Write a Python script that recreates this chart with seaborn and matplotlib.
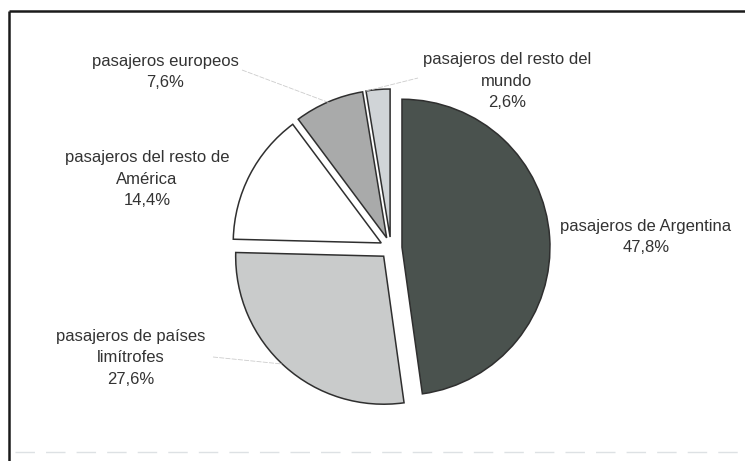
import numpy as np
import matplotlib
matplotlib.use("Agg")
import matplotlib.pyplot as plt
import seaborn as sns

# dados do gráfico
categorias = [
    "pasajeros de Argentina",
    "pasajeros de países\nlimítrofes",
    "pasajeros del resto de\nAmérica",
    "pasajeros europeos",
    "pasajeros del resto del\nmundo",
]
porcentajes = [47.8, 27.6, 14.4, 7.6, 2.6]
colores = ["#4a524e", "#c9cbcb", "#ffffff", "#a9aaaa", "#d0d4d7"]

# posição dos rótulos em pixels (x, y desde o topo)
pos_rotulos = [(646, 237), (131, 358), (147, 179), (165, 72), (507, 81)]
# linhas guia (pixels)
linhas_guia = [
    [(242, 70), (330, 103)],
    [(366, 91), (418, 78)],
    [(213, 357), (282, 364)],
]

W, H = 745, 461
sns.set_style("white")
plt.rcParams["font.family"] = ["Liberation Sans", "DejaVu Sans"]

fig = plt.figure(figsize=(W / 100, H / 100), dpi=100)
ax = fig.add_axes([0, 0, 1, 1])

centro = (391, H - 248)
raio = 148
ax.pie(
    porcentajes,
    colors=colores,
    startangle=90,
    counterclock=False,
    explode=[11] * len(porcentajes),
    center=centro,
    radius=raio,
    wedgeprops=dict(edgecolor="#2f2f2f", linewidth=1.1),
)

for cat, val, (px, py) in zip(categorias, porcentajes, pos_rotulos):
    txt = cat + "\n" + f"{val:.1f}".replace(".", ",") + "%"
    ax.text(px, H - py, txt, ha="center", va="center", fontsize=12,
            color="#333333", linespacing=1.55)

for (x0, y0), (x1, y1) in linhas_guia:
    ax.plot([x0, x1], [H - y0, H - y1], color="#cccccc", linewidth=0.6,
            linestyle=(0, (6, 1.5)))

# moldura
ax.plot([9, W], [H - 11, H - 11], color="#1a1a1a", linewidth=1.8, solid_capstyle="butt")
ax.plot([9, 9], [H - 11, 0], color="#1a1a1a", linewidth=1.8, solid_capstyle="butt")
ax.plot([15, W], [H - 452, H - 452], color="#dde1e4", linewidth=1.0, linestyle=(0, (14, 8)))

ax.set_xlim(0, W)
ax.set_ylim(0, H)
ax.set_aspect("equal")
ax.axis("off")

fig.savefig("out.png", dpi=100, facecolor="white")
